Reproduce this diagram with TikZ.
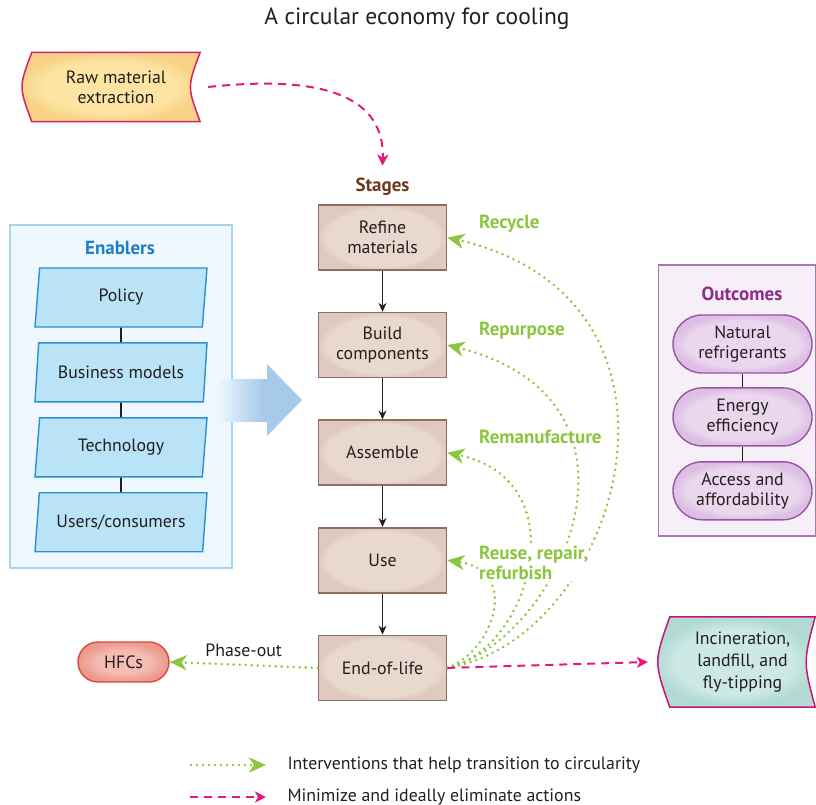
\documentclass[tikz,border=0pt]{standalone}
\usepackage{fontspec}
\setmainfont{PT Sans}
\usetikzlibrary{shapes.geometric,arrows.meta,backgrounds,positioning}

\definecolor{ink}{HTML}{231F20}
\definecolor{stageline}{HTML}{8F6E60}
\definecolor{stagein}{HTML}{E9D8CE}
\definecolor{stageout}{HTML}{DECAC0}
\definecolor{stagehead}{HTML}{6B3B1D}
\definecolor{enabpanel}{HTML}{EFF8FE}
\definecolor{enabpanelline}{HTML}{A7D4F1}
\definecolor{enabfill}{HTML}{BAE3F8}
\definecolor{enabline}{HTML}{2A90D0}
\definecolor{enabhead}{HTML}{1E7FC3}
\definecolor{pusharrow}{HTML}{A7CAEA}
\definecolor{outpanel}{HTML}{F6EFF8}
\definecolor{outpanelline}{HTML}{A678B2}
\definecolor{outin}{HTML}{EAD6ED}
\definecolor{outout}{HTML}{DDBFE3}
\definecolor{outline}{HTML}{9B53A7}
\definecolor{outhead}{HTML}{8E2B8C}
\definecolor{hfcin}{HTML}{F4BCB3}
\definecolor{hfcout}{HTML}{EC988C}
\definecolor{hfcline}{HTML}{D94A3F}
\definecolor{rawin}{HTML}{FDE4A3}
\definecolor{rawout}{HTML}{F8D387}
\definecolor{rawline}{HTML}{D81F66}
\definecolor{incin}{HTML}{CCE9E3}
\definecolor{incout}{HTML}{B0DAD2}
\definecolor{incline}{HTML}{C3177D}
\definecolor{greenc}{HTML}{8CC63F}
\definecolor{pinkc}{HTML}{E5177F}

% edge glows
\pgfdeclareradialshading{stageshade}{\pgfpoint{0bp}{0bp}}{color(0bp)=(stagein); color(22bp)=(stagein); color(25bp)=(stageout); color(50bp)=(stageout)}
\pgfdeclareradialshading{outshade}{\pgfpoint{0bp}{0bp}}{color(0bp)=(outin); color(20bp)=(outin); color(25bp)=(outout); color(50bp)=(outout)}
\pgfdeclareradialshading{hfcshade}{\pgfpoint{0bp}{0bp}}{color(0bp)=(hfcin); color(14bp)=(hfcin); color(25bp)=(hfcout); color(50bp)=(hfcout)}
\pgfdeclareradialshading{rawshade}{\pgfpoint{0bp}{0bp}}{color(0bp)=(rawin); color(18bp)=(rawin); color(25bp)=(rawout); color(50bp)=(rawout)}
\pgfdeclareradialshading{incshade}{\pgfpoint{0bp}{0bp}}{color(0bp)=(incin); color(18bp)=(incin); color(25bp)=(incout); color(50bp)=(incout)}
\pgfdeclarehorizontalshading{pushshade}{100bp}{color(0bp)=(enabpanel); color(25bp)=(enabpanel); color(52bp)=(pusharrow); color(100bp)=(pusharrow)}

\begin{document}
\begin{tikzpicture}[x=1pt, y=-1pt,
  font=\fontsize{17.8}{20}\selectfont, text=ink,
  stagebox/.style={rectangle, draw=stageline, line width=1.6pt, shading=stageshade,
    minimum width=128pt, minimum height=65pt, align=center},
  enabler/.style={trapezium, trapezium left angle=74, trapezium right angle=106,
    trapezium stretches body, draw=enabline, line width=1.4pt, fill=enabfill,
    minimum width=172pt, minimum height=59pt, inner sep=0pt},
  outcome/.style={rectangle, rounded corners=29pt, draw=outline, line width=1.4pt,
    shading=outshade, minimum width=139pt, minimum height=58pt, align=center},
  heading/.style={font=\fontsize{19}{21}\selectfont\bfseries},
  stepline/.style={-{Stealth[length=9pt,width=8pt]}, line width=1pt, ink},
  link/.style={line width=1.6pt, ink},
  loop/.style={greenc, line width=2.8pt, line cap=round, dash pattern=on 0pt off 6pt,
    -{Stealth[length=17pt,width=15pt,inset=5pt]}},
  cut/.style={pinkc, line width=2pt, dash pattern=on 8pt off 6pt,
    -{Stealth[length=11pt,width=11pt,inset=3pt]}},
  looplabel/.style={font=\fontsize{19}{20.5}\selectfont\bfseries, text=greenc, fill=white,
    inner sep=1pt, anchor=west, align=left}]

\useasboundingbox (0,0) rectangle (816,805);

% Title
\node[font=\fontsize{23.5}{26}\selectfont] (title) at (417,19) {A circular economy for cooling};

% Panels
\node[draw=enabpanelline, fill=enabpanel, line width=2.5pt,
  minimum width=222pt, minimum height=343pt] (enablers) at (121,396.5) {};
\node[draw=outpanelline, fill=outpanel, line width=1.5pt,
  minimum width=157pt, minimum height=271pt] (outpanel) at (737,400.5) {};

% Push arrow
\shade[shading=pushshade] (217,379) -- (267,379) -- (267,364) -- (302,400)
  -- (267,436) -- (267,422) -- (217,422) -- cycle;

% Enablers
\node[heading, text=enabhead] (enabtitle) at (120,248) {Enablers};
\node[enabler] (policy) at (121,297.5) {Policy};
\node[enabler, below=14.5pt of policy] (business) {Business models};
\node[enabler, below=14.5pt of business] (techno) {Technology};
\node[enabler, below=14.5pt of techno] (users) {Users/consumers};
\foreach \a/\b in {policy/business, business/techno, techno/users}
  \draw[link] (\a) -- (\b);

% Outcomes
\node[heading, text=outhead] (outtitle) at (742,294) {Outcomes};
\node[outcome] (natural) at (742.5,344) {Natural\\refrigerants};
\node[outcome, below=13.5pt of natural] (energy) {Energy\\efficiency};
\node[outcome, below=14.5pt of energy] (access) {Access and\\affordability};
\foreach \a/\b in {natural/energy, energy/access}
  \draw[link] (\a) -- (\b);

% Stages
\node[heading, text=stagehead] (stages) at (382.5,187) {Stages};
\node[stagebox] (refine) at (382.5,237.5) {Refine\\materials};
\node[stagebox, below=41pt of refine] (build) {Build\\components};
\node[stagebox, below=41pt of build] (assemble) {Assemble};
\node[stagebox, below=41pt of assemble] (use) {Use};
\node[stagebox, below=41pt of use] (eol) {End-of-life};
\foreach \a/\b in {refine/build, build/assemble, assemble/use, use/eol}
  \draw[stepline] (\a) -- (\b);

% Inputs and outputs
\node[align=center, minimum width=168pt, minimum height=69pt] (raw) at (116,87)
  {Raw material\\extraction};
\node[align=center, minimum width=145pt, minimum height=90pt,
  font=\fontsize{17.8}{22}\selectfont] (incin) at (742.5,662)
  {Incineration,\\landfill, and\\fly-tipping};
\node[rectangle, rounded corners=20pt, draw=hfcline, line width=1.4pt, shading=hfcshade,
  minimum width=91pt, minimum height=40pt] (hfcs) at (123.5,662) {HFCs};

\begin{scope}[on background layer]
\draw[rawline, line width=1.5pt, shading=rawshade] (raw.north west) -- (raw.north east)
  .. controls ([xshift=-13pt]raw.east) .. (raw.south east) -- (raw.south west)
  .. controls ([xshift=-13pt]raw.west) .. (raw.north west) -- cycle;
\draw[incline, line width=1.5pt, shading=incshade] (incin.north west) -- (incin.north east)
  .. controls ([xshift=-12pt]incin.east) .. (incin.south east) -- (incin.south west)
  .. controls ([xshift=-16pt]incin.west) .. (incin.north west) -- cycle;
\end{scope}

% Loops back into the stages
\draw[loop] (eol.east) .. controls (620,640) and (720,300) .. (refine.east);
\draw[loop] (eol.east) .. controls (560,640) and (670,400) .. (build.east);
\draw[loop] (eol.east) .. controls (530,650) and (580,480) .. (assemble.east);
\draw[loop] (eol.east) .. controls (495,650) and (520,570) .. (use.east);
\node[looplabel] (recycle) at (478,224) {Recycle};
\node[looplabel] (repurpose) at (478,331) {Repurpose};
\node[looplabel] (reman) at (478,437) {Remanufacture};
\node[looplabel] (reuse) at (478,563) {Reuse, repair,\\refurbish};

\draw[loop] (eol.west) -- node[above=4pt, text=ink] (phase) {Phase-out} (hfcs.east);
\draw[cut] (eol.east) -- ([xshift=-22pt]incin.west);
\draw[cut] ([xshift=8pt]raw.east) .. controls (310,76) and (385,90) .. ([yshift=9pt]stages.north);

% Legend
\coordinate (lgonea) at (191,765);
\coordinate (lgoneb) at (266,765);
\coordinate (lgtwoa) at (190,797);
\coordinate (lgtwob) at (266,797);
\draw[loop] (lgonea) -- (lgoneb);
\draw[cut] (lgtwoa) -- (lgtwob);
\node[anchor=west] (lgone) at (284,765) {Interventions that help transition to circularity};
\node[anchor=west] (lgtwo) at (284,797) {Minimize and ideally eliminate actions};

\end{tikzpicture}
\end{document}
